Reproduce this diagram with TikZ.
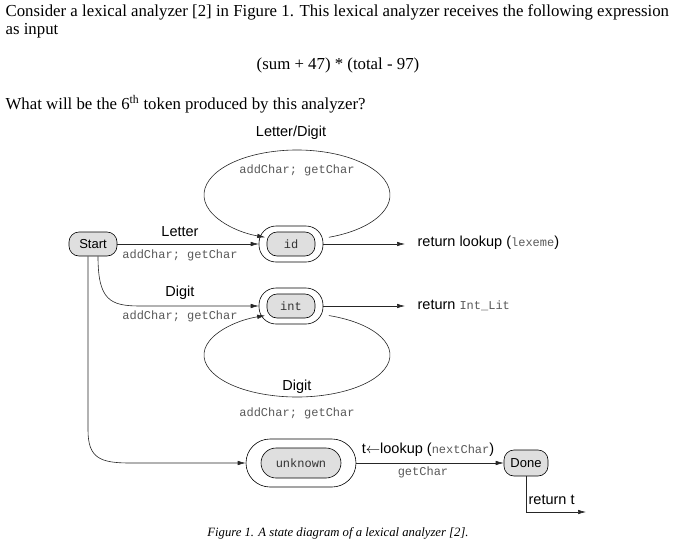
\documentclass[tikz,border=0pt]{standalone}
\usepackage{fontspec}
\setmainfont{Liberation Serif}
\newfontfamily\lsans{Liberation Sans}
\newfontfamily\lmono{Liberation Mono}
\usetikzlibrary{arrows.meta}
\newcommand\mymono{\lmono\fontsize{12}{13}\selectfont\color{black!65}}
\newcommand\mysans{\lsans\fontsize{14.5}{16}\selectfont\color{black}}
\begin{document}
\begin{tikzpicture}[x=1pt,y=-1pt,line width=0.6pt,
  st/.style={draw,rounded corners=10pt,fill=gray!25,font=\lsans\fontsize{13}{14}\selectfont,minimum height=24,inner sep=2pt},
  outer/.style={draw,rounded corners=17pt,minimum height=36,minimum width=64},
  mono/.style={font=\mymono},
  sans/.style={font=\mysans},
  ar/.style={-{Latex[length=8pt,width=4.5pt]},black!85},
  txt/.style={font=\fontsize{16.8}{19}\selectfont,anchor=west}]
\useasboundingbox (0,0) rectangle (673,552);
\node[txt] (l1) at (2,12) {Consider a lexical analyzer [2] in Figure 1. This lexical analyzer receives the following expression};
\node[txt] (l2) at (2,31) {as input};
\node[font=\fontsize{16.8}{19}\selectfont] (expr) at (338,65) {(sum + 47) * (total - 97)};
\node[txt] (l3) at (2,104) {What will be the 6\textsuperscript{th} token produced by this analyzer?};

\node[st,minimum width=48] (start) at (93,244) {Start};
\node[outer] (ido) at (291,244) {};
\node[st,minimum width=48,mono,text=black!80] (id) at (291,244) {id};
\node[outer] (into) at (291,306) {};
\node[st,minimum width=48,mono,text=black!80] (int) at (291,306) {int};
\node[draw,rounded corners=24pt,minimum height=48,minimum width=110] (unko) at (301,463) {};
\node[st,rounded corners=15pt,minimum height=30,minimum width=80,mono,text=black!80] (unk) at (301,463) {unknown};
\node[st,minimum width=44,minimum height=26] (done) at (526,463) {Done};

% loops
\draw[ar] (297,195) ++(-70:93 and -45) arc[start angle=-70,end angle=250,x radius=93,y radius=-45];
\draw[ar] (297,355) ++(70:93 and -42) arc[start angle=70,end angle=-250,x radius=93,y radius=-42];
\node[sans] (ld) at (291,133) {Letter/Digit};
\node[mono] (lda) at (297,170) {addChar; getChar};
\node[sans] (dg2) at (297,387) {Digit};
\node[mono] (dga2) at (297,413) {addChar; getChar};

% start edges
\draw[ar] (start) -- (ido);
\node[sans] (lt) at (180,232) {Letter};
\node[mono] (lta) at (180,255) {addChar; getChar};
\draw[ar] (start.south) ++(5,0) .. controls (98,300) and (110,306) .. (140,306) -- (into.west);
\node[sans] (dg) at (180,293) {Digit};
\node[mono] (dga) at (180,316) {addChar; getChar};
\coordinate (sb) at ([xshift=-5pt]start.south);
\draw[ar] (sb) -- (88,430) .. controls (88,458) and (100,463) .. (130,463) -- (unko.west);

% outputs
\coordinate (r1) at (405,244);
\coordinate (r2) at (405,306);
\draw[ar] (ido) -- (r1);
\draw[ar] (into) -- (r2);
\node[sans,anchor=west] (rt1) at (414,243) {return lookup ({\mymono lexeme})};
\node[sans,anchor=west] (rt2) at (414,305) {return {\mymono Int\_Lit}};
\draw[ar] (unko) -- (done);
\node[sans] (tl) at (428,450) {t$\leftarrow$lookup ({\mymono nextChar})};
\node[mono] (gc) at (423,472) {getChar};
\coordinate (rt) at (586,512);
\draw[ar] (done.south) |- (rt);
\node[sans,anchor=west] (rtt) at (525,500) {return t};
\node[font=\itshape\fontsize{12.7}{14}\selectfont] (cap) at (338,533) {Figure 1. A state diagram of a lexical analyzer [2].};
\end{tikzpicture}
\end{document}
